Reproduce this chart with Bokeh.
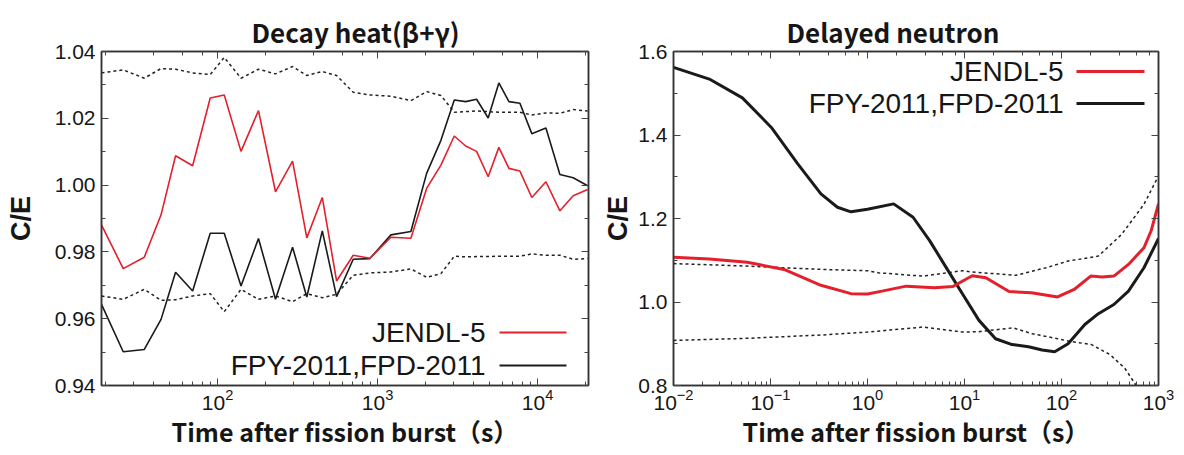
from bokeh.plotting import figure
from bokeh.layouts import row
from bokeh.models import (Range1d, FixedTicker, LinearAxis, LogAxis, LogTicker,
                          PrintfTickFormatter, Label, Arrow)
from bokeh.embed import file_html
from bokeh.resources import INLINE

# ---------------- Decay heat (beta+gamma) ----------------
t_dh = [18.8, 25.7, 34.8, 44.3, 54.6, 69.8, 89.9, 110, 140, 180, 230, 294, 361,
        451, 554, 704, 895, 1211, 1614, 2024, 2487, 3015, 3550, 4155, 4910, 5725,
        6620, 7750, 9200, 11270, 13780, 16690, 20540]
jendl_dh = [0.9881, 0.9750, 0.9784, 0.9911, 1.0088, 1.0058, 1.0261, 1.0270, 1.0101,
            1.0223, 0.9980, 1.0072, 0.9842, 0.9963, 0.9713, 0.9790, 0.9781, 0.9844,
            0.9841, 0.9990, 1.0060, 1.0147, 1.0117, 1.0101, 1.0025, 1.0113, 1.0050,
            1.0042, 0.9963, 1.0010, 0.9923, 0.9968, 0.9987]
fpy_dh = [0.9643, 0.9501, 0.9508, 0.9598, 0.9739, 0.9683, 0.9856, 0.9856, 0.9698,
          0.9840, 0.9658, 0.9814, 0.9665, 0.9863, 0.9666, 0.9778, 0.9780, 0.9851,
          0.9861, 1.0035, 1.0134, 1.0255, 1.0250, 1.0257, 1.0201, 1.0306, 1.0250,
          1.0245, 1.0154, 1.0171, 1.0032, 1.0022, 0.9998]
upper_dh = [1.0336, 1.0345, 1.0320, 1.0349, 1.0347, 1.0336, 1.0331, 1.0382, 1.0320,
            1.0347, 1.0333, 1.0355, 1.0328, 1.0340, 1.0328, 1.0278, 1.0270, 1.0266,
            1.0253, 1.0280, 1.0268, 1.0218, 1.0220, 1.0222, 1.0220, 1.0218, 1.0218,
            1.0218, 1.0210, 1.0216, 1.0215, 1.0226, 1.0222]
lower_dh = [0.9668, 0.9658, 0.9688, 0.9655, 0.9657, 0.9668, 0.9675, 0.9621, 0.9688,
            0.9658, 0.9668, 0.9651, 0.9675, 0.9663, 0.9673, 0.9730, 0.9737, 0.9740,
            0.9749, 0.9724, 0.9735, 0.9787, 0.9785, 0.9786, 0.9786, 0.9787, 0.9787,
            0.9787, 0.9794, 0.9790, 0.9790, 0.9778, 0.9780]
dh_yticks = [0.94, 0.96, 0.98, 1.00, 1.02, 1.04]
dh_yminor = [0.95, 0.97, 0.99, 1.01, 1.03]

# ---------------- Delayed neutron ----------------
t_dn_fpy = [0.01, 0.0234, 0.0513, 0.102, 0.191, 0.331, 0.490, 0.676, 1.0, 1.86, 2.95,
            4.37, 6.46, 9.55, 14.1, 20.9, 30.9, 45.7, 63.1, 85.1, 117, 174, 240, 347,
            490, 708, 1000]
fpy_dn = [1.562, 1.534, 1.489, 1.418, 1.331, 1.259, 1.227, 1.216, 1.222, 1.235, 1.203,
          1.147, 1.083, 1.019, 0.956, 0.912, 0.898, 0.893, 0.885, 0.881, 0.900, 0.946,
          0.972, 0.994, 1.026, 1.082, 1.152]
t_dn_j = [0.01, 0.0234, 0.0575, 0.138, 0.331, 0.676, 1.0, 1.41, 2.51, 4.90, 7.59, 12.0,
          16.6, 28.8, 49.0, 91.2, 135, 200, 263, 347, 490, 708, 838, 1000]
jendl_dn = [1.107, 1.103, 1.095, 1.078, 1.040, 1.020, 1.019, 1.026, 1.038, 1.034, 1.037,
            1.063, 1.058, 1.025, 1.022, 1.012, 1.030, 1.062, 1.060, 1.062, 1.090, 1.130,
            1.170, 1.235]
t_dn_up = [0.01, 0.0575, 0.339, 1.0, 1.29, 3.72, 9.55, 11.7, 33.9, 69.2, 117, 240, 417,
           708, 1000]
upper_dn = [1.092, 1.086, 1.078, 1.075, 1.070, 1.062, 1.075, 1.072, 1.064, 1.082, 1.098,
            1.110, 1.162, 1.234, 1.302]
t_dn_lo = [0.01, 0.0575, 0.339, 1.0, 3.72, 9.55, 14.1, 31.6, 50.1, 91.2, 120, 204, 316,
           447, 589, 631]
lower_dn = [0.908, 0.913, 0.921, 0.928, 0.940, 0.928, 0.929, 0.938, 0.924, 0.912, 0.906,
            0.898, 0.874, 0.842, 0.800, 0.790]
dn_yticks = [0.8, 1.0, 1.2, 1.4, 1.6]
dn_yminor = [0.9, 1.1, 1.3, 1.5]

labels = ["JENDL-5", "FPY-2011,FPD-2011"]
RED = "#e3202b"
BLACK = "#1a1a1a"
DOT = "#222222"

TICK_FONT = "Liberation Sans"
TITLE_FONT = "Noto Sans CJK JP"
XLAB_FONT = "Noto Sans CJK JP"
YLAB_FONT = "Liberation Sans"
FRAME = "#333333"
TXT = "#161616"


def style_axis(ax, show_labels=True):
    ax.axis_line_color = FRAME
    ax.axis_line_width = 1.5
    ax.major_tick_in = 7
    ax.major_tick_out = 0
    ax.minor_tick_in = 4
    ax.minor_tick_out = 0
    ax.major_tick_line_color = "#444444"
    ax.minor_tick_line_color = "#444444"
    ax.major_label_text_font = TICK_FONT
    ax.major_label_text_font_size = "21px"
    ax.major_label_text_color = TXT
    ax.major_label_standoff = 6
    if not show_labels:
        ax.major_label_text_font_size = "0px"
        ax.major_label_text_color = None
        ax.major_label_standoff = 0
        ax.axis_label_standoff = 0


def make_fig(title, xr, yr, yticks, yminor, yfmt, width, bl, br, bt, title_off,
             ylab_standoff):
    p = figure(width=width, height=455, x_axis_type="log",
               x_range=Range1d(*xr), y_range=Range1d(*yr),
               output_backend="svg", toolbar_location=None,
               min_border_left=bl, min_border_right=br,
               min_border_top=bt, min_border_bottom=70, title=title)
    p.title.align = "left"
    p.title.offset = title_off
    p.title.text_font = TITLE_FONT
    p.title.text_font_size = "26px"
    p.title.text_font_style = "bold"
    p.title.text_color = TXT
    p.title.standoff = 4
    p.grid.visible = False
    p.outline_line_color = FRAME
    p.outline_line_width = 1.5
    p.yaxis.ticker = FixedTicker(ticks=yticks, minor_ticks=yminor)
    p.yaxis.formatter = PrintfTickFormatter(format=yfmt)
    for ax in p.xaxis + p.yaxis:
        style_axis(ax)
        ax.axis_label_text_font_style = "bold"
        ax.axis_label_text_color = TXT
    p.xaxis.major_label_standoff = 3
    p.xaxis.axis_label = "Time after fission burst（s）"
    p.xaxis.axis_label_text_font = XLAB_FONT
    p.xaxis.axis_label_text_font_size = "25px"
    p.xaxis.axis_label_standoff = 0
    p.yaxis.axis_label = "C/E"
    p.yaxis.axis_label_text_font = YLAB_FONT
    p.yaxis.axis_label_text_font_size = "27px"
    p.yaxis.axis_label_standoff = ylab_standoff
    top = LogAxis(ticker=LogTicker())
    style_axis(top, False)
    p.add_layout(top, "above")
    right = LinearAxis(ticker=FixedTicker(ticks=yticks, minor_ticks=yminor))
    style_axis(right, False)
    p.add_layout(right, "right")
    return p


def add_legend(p, colors, text_x, s0, s1, ys, lw):
    for txt, col, y in zip(labels, colors, ys):
        p.add_layout(Label(x=text_x, y=y, x_units="screen", y_units="screen", text=txt,
                           text_align="right", text_baseline="middle",
                           text_font=TICK_FONT, text_font_size="28px", text_color=TXT))
        p.add_layout(Arrow(end=None, x_start=s0, y_start=y, x_end=s1, y_end=y,
                           start_units="screen", end_units="screen",
                           line_color=col, line_width=lw))


p1 = make_fig("Decay heat(β+γ)", (18.8, 20800), (0.94, 1.04), dh_yticks, dh_yminor,
              "%.2f", 600, 101, 12, 49, 150, 16)
p1.line(t_dh, upper_dh, line_color=DOT, line_width=1.5, line_dash="3 3")
p1.line(t_dh, lower_dh, line_color=DOT, line_width=1.5, line_dash="3 3")
p1.line(t_dh, fpy_dh, line_color=BLACK, line_width=1.6)
p1.line(t_dh, jendl_dh, line_color=RED, line_width=1.6)
add_legend(p1, [RED, BLACK], 384, 398, 465, [53, 20], 1.8)

p2 = make_fig("Delayed neutron", (0.01, 1000), (0.8, 1.6), dn_yticks, dn_yminor,
              "%.1f", 584, 67, 26, 51, 113, 2)
p2.line(t_dn_up, upper_dn, line_color=DOT, line_width=1.5, line_dash="3 3")
p2.line(t_dn_lo, lower_dn, line_color=DOT, line_width=1.5, line_dash="3 3")
p2.line(t_dn_fpy, fpy_dn, line_color=BLACK, line_width=3)
p2.line(t_dn_j, jendl_dn, line_color=RED, line_width=3)
add_legend(p2, [RED, BLACK], 390, 403, 471, [314, 282], 3)

layout = row(p1, p2)
open("out.html", "w").write(file_html(layout, INLINE))
